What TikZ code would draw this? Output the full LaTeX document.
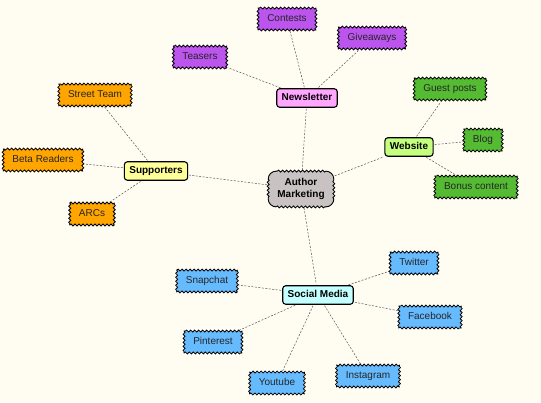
\documentclass[tikz,border=0pt]{standalone}
\usepackage{fontspec}
\setmainfont{Liberation Sans}
\usetikzlibrary{decorations.pathmorphing,backgrounds}
\definecolor{bgc}{HTML}{FFFDF2}
\definecolor{purp}{HTML}{BB55EE}
\definecolor{pinkh}{HTML}{FFA6FF}
\definecolor{grnl}{HTML}{55BB33}
\definecolor{grnh}{HTML}{C4FF80}
\definecolor{orng}{HTML}{FFA500}
\definecolor{yelh}{HTML}{FFFF99}
\definecolor{bluel}{HTML}{66BBFF}
\definecolor{cyanh}{HTML}{C4FFFF}
\definecolor{ctr}{HTML}{C8C2C2}
\definecolor{edgec}{HTML}{555555}
\tikzset{
  leaf/.style={rectangle, font=\fontsize{10}{12}\selectfont, text=black!85,
    text height=7.5pt, text depth=2pt, inner xsep=9pt, inner ysep=6pt},
  hub/.style={draw=black, line width=1.1pt, rectangle, rounded corners=3pt,
    font=\fontsize{10}{12}\selectfont\bfseries, text height=7.5pt, text depth=2pt,
    inner xsep=5pt, inner ysep=4.5pt},
  center/.style={rectangle, font=\fontsize{10}{12}\selectfont\bfseries, align=center,
    inner xsep=9pt, inner ysep=7pt},
  wavy/.style={draw=black, line width=0.8pt, line cap=round, decorate,
    decoration={snake, amplitude=1pt, segment length=4pt}},
  link/.style={draw=edgec, line width=0.5pt, dash pattern=on 2pt off 1.5pt, shorten >=1pt, shorten <=1pt}
}
\newcommand{\wavebox}[2]{%
  \fill[#2] (#1.south west) rectangle (#1.north east);
  \draw[wavy] (#1.south west) -- (#1.south east);
  \draw[wavy] (#1.south east) -- (#1.north east);
  \draw[wavy] (#1.north east) -- (#1.north west);
  \draw[wavy] (#1.north west) -- (#1.south west);}
\begin{document}
\begin{tikzpicture}[x=1pt,y=-1pt]
\useasboundingbox (0,0) rectangle (541,402);
\node[center] (am) at (301,189) {Author\\Marketing};
\node[hub, fill=pinkh] (nl) at (307,98) {Newsletter};
\node[hub, fill=grnh] (ws) at (409,147) {Website};
\node[hub, fill=yelh] (sp) at (156,171) {Supporters};
\node[hub, fill=cyanh] (sm) at (318,295) {Social Media};
% newsletter leaves
\node[leaf] (co) at (287,19) {Contests};
\node[leaf] (gv) at (372,38) {Giveaways};
\node[leaf] (te) at (200,57) {Teasers};
% website leaves
\node[leaf] (gp) at (450,89) {Guest posts};
\node[leaf] (bl) at (483,140) {Blog};
\node[leaf] (bc) at (476,187) {Bonus content};
% supporters leaves
\node[leaf] (st) at (95,95) {Street Team};
\node[leaf] (br) at (43,160) {Beta Readers};
\node[leaf] (ar) at (92,214) {ARCs};
% social media leaves
\node[leaf] (tw) at (414,263) {Twitter};
\node[leaf] (sc) at (207,281) {Snapchat};
\node[leaf] (fb) at (430,317) {Facebook};
\node[leaf] (pi) at (213,342) {Pinterest};
\node[leaf] (yt) at (277,383) {Youtube};
\node[leaf] (ig) at (368,376) {Instagram};
\begin{pgfonlayer}{background}
\fill[bgc] (0,0) rectangle (541,402);
% links
\draw[link] (am) -- (nl);
\draw[link] (am) -- (ws);
\draw[link] (am) -- (sp);
\draw[link] (am) -- (sm);
\draw[link] (nl) -- (co);
\draw[link] (nl) -- (gv);
\draw[link] (nl) -- (te);
\draw[link] (ws) -- (gp);
\draw[link] (ws) -- (bl);
\draw[link] (ws) -- (bc);
\draw[link] (sp) -- (st);
\draw[link] (sp) -- (br);
\draw[link] (sp) -- (ar);
\draw[link] (sm) -- (tw);
\draw[link] (sm) -- (sc);
\draw[link] (sm) -- (fb);
\draw[link] (sm) -- (pi);
\draw[link] (sm) -- (yt);
\draw[link] (sm) -- (ig);
% wavy boxes
\wavebox{co}{purp}\wavebox{gv}{purp}\wavebox{te}{purp}
\wavebox{gp}{grnl}\wavebox{bl}{grnl}\wavebox{bc}{grnl}
\wavebox{st}{orng}\wavebox{br}{orng}\wavebox{ar}{orng}
\wavebox{tw}{bluel}\wavebox{sc}{bluel}\wavebox{fb}{bluel}
\wavebox{pi}{bluel}\wavebox{yt}{bluel}\wavebox{ig}{bluel}
% center cloud box
\fill[ctr, rounded corners=8pt] (am.south west) rectangle (am.north east);
\begin{scope}[line width=0.9pt]
\draw[rounded corners=8pt] ([xshift=-8pt]am.south east) -- (am.south east) -- ([yshift=8pt]am.south east);
\draw[rounded corners=8pt] ([yshift=-8pt]am.north east) -- (am.north east) -- ([xshift=-8pt]am.north east);
\draw[rounded corners=8pt] ([xshift=8pt]am.north west) -- (am.north west) -- ([yshift=-8pt]am.north west);
\draw[rounded corners=8pt] ([yshift=8pt]am.south west) -- (am.south west) -- ([xshift=8pt]am.south west);
\end{scope}
\draw[wavy] ([xshift=8pt]am.south west) -- ([xshift=-8pt]am.south east);
\draw[wavy] ([yshift=8pt]am.south east) -- ([yshift=-8pt]am.north east);
\draw[wavy] ([xshift=-8pt]am.north east) -- ([xshift=8pt]am.north west);
\draw[wavy] ([yshift=-8pt]am.north west) -- ([yshift=8pt]am.south west);
\end{pgfonlayer}
\end{tikzpicture}
\end{document}
